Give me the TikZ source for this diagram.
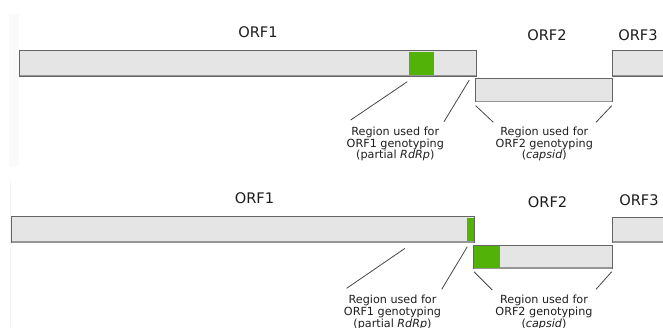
\documentclass[tikz,border=0pt]{standalone}
\usepackage{fontspec}
\setmainfont{DejaVu Sans}
\definecolor{barfill}{RGB}{229,229,229}
\definecolor{barline}{RGB}{100,100,100}
\definecolor{barshade}{RGB}{150,150,150}
\definecolor{genogreen}{RGB}{82,178,8}
\definecolor{leader}{RGB}{70,70,70}
\definecolor{txt}{RGB}{30,30,30}
\definecolor{faint}{RGB}{250,250,250}
\tikzset{
  bar/.style={draw=barline, fill=barfill, line width=0.9pt, anchor=north west,
              inner sep=0pt, outer sep=0pt},
  hit/.style={fill=genogreen, draw=none, anchor=north west, inner sep=0pt, outer sep=0pt},
  orflabel/.style={text=txt, font=\fontsize{14.6}{16}\selectfont, inner sep=0pt},
  note/.style={text=txt, align=center, font=\fontsize{11.2}{11.7}\selectfont, inner sep=0pt},
  leaderline/.style={draw=leader, line width=0.8pt},
}
% draw a bar of given width and height with its top left corner at a point
\newcommand{\orfbar}[4]{%
  \node[bar, minimum width=#3pt, minimum height=#4pt] (#1) at (#2) {};
  \draw[barshade, line width=1.4pt] ([xshift=0.5pt,yshift=0.3pt]#1.south west) -- ([xshift=-0.5pt,yshift=0.3pt]#1.south east);
}
\begin{document}
\begin{tikzpicture}[x=1pt, y=-1pt]
\useasboundingbox (0,0) rectangle (663,327);
\clip (0,0) rectangle (663,327);

% faint frame edges of the two panels
\fill[faint] (9,14) rectangle (19,166);
\fill[faint!97!black] (10,182) rectangle (11.3,327);

% ---------- upper panel ----------
\orfbar{aorf1}{19,50}{457}{26}
\node[hit, minimum width=24.7pt, minimum height=23pt] (agreen1) at (409.3,51.5) {};
\orfbar{aorf2}{475.7,78}{136.8}{23.7}
\orfbar{aorf3}{612.2,50.5}{60}{25.5}

\node[orflabel] (alab1) at (258,32.3) {ORF1};
\node[orflabel] (alab2) at (547,35) {ORF2};
\node[orflabel] (alab3) at (638,35) {ORF3};

\coordinate (al1a) at (407.3,81.7); \coordinate (al1b) at (350.7,120);
\coordinate (al2a) at (469.3,80);   \coordinate (al2b) at (444,121.7);
\coordinate (al3a) at (475.7,105.7); \coordinate (al3b) at (493.3,122.3);
\coordinate (al4a) at (611.7,105.7); \coordinate (al4b) at (596,122.3);
\draw[leaderline] (al1a) -- (al1b);
\draw[leaderline] (al2a) -- (al2b);
\draw[leaderline] (al3a) -- (al3b);
\draw[leaderline] (al4a) -- (al4b);

\node[note] (anote1) at (395.3,144) {Region used for\\ORF1 genotyping\\(partial \textit{RdRp})};
\node[note] (anote2) at (544.3,144) {Region used for\\ORF2 genotyping\\(\textit{capsid})};

% ---------- lower panel ----------
\orfbar{borf1}{11.7,216.7}{462.3}{25.6}
\node[hit, minimum width=6.8pt, minimum height=23.3pt] (bgreen1) at (466.8,218) {};
\orfbar{borf2}{473.3,245}{139}{23.3}
\node[hit, minimum width=26.6pt, minimum height=22.3pt] (bgreen2) at (473.8,245.5) {};
\orfbar{borf3}{612.3,217.3}{60}{25}

\node[orflabel] (blab1) at (254.5,198.3) {ORF1};
\node[orflabel] (blab2) at (547.6,201.7) {ORF2};
\node[orflabel] (blab3) at (639,200) {ORF3};

\coordinate (bl1a) at (405,248.3);   \coordinate (bl1b) at (346.7,288.3);
\coordinate (bl2a) at (467.3,246.7); \coordinate (bl2b) at (441.7,289.3);
\coordinate (bl3a) at (474,271.7);   \coordinate (bl3b) at (492.3,290);
\coordinate (bl4a) at (611.7,271.7); \coordinate (bl4b) at (596,289.3);
\draw[leaderline] (bl1a) -- (bl1b);
\draw[leaderline] (bl2a) -- (bl2b);
\draw[leaderline] (bl3a) -- (bl3b);
\draw[leaderline] (bl4a) -- (bl4b);

\node[note] (bnote1) at (392.5,312.5) {Region used for\\ORF1 genotyping\\(partial \textit{RdRp})};
\node[note] (bnote2) at (544,312.5) {Region used for\\ORF2 genotyping\\(\textit{capsid})};
\end{tikzpicture}
\end{document}
